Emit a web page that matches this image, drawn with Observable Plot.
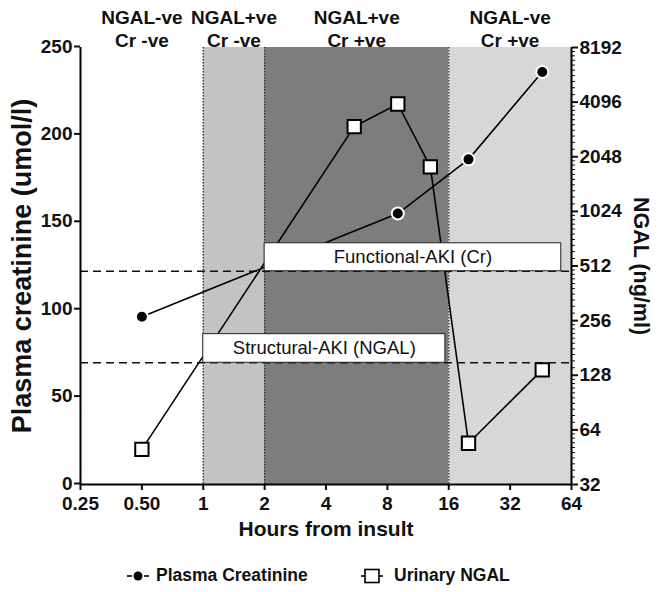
<!DOCTYPE html>
<html>
<head>
<meta charset="utf-8">
<script src="https://cdn.jsdelivr.net/npm/d3@7"></script>
<script src="https://cdn.jsdelivr.net/npm/@observablehq/plot@0.6"></script>
<style>
  html, body { margin: 0; padding: 0; background: #fff; }
  #wrap { width: 662px; font-family: "Liberation Sans", Arial, sans-serif; }
  #legend { position: relative; width: 662px; height: 32px; font-weight: bold; font-size: 17.5px; color: #111; }
  .item { position: absolute; top: 5px; display: flex; align-items: center; gap: 6px; }
</style>
</head>
<body>
<div id="wrap"></div>
<script>
// ---- data ----
const phaseBounds = [0.25, 1, 2, 16, 64];
const phaseLabels = ["NGAL-ve\nCr -ve", "NGAL+ve\nCr -ve", "NGAL+ve\nCr +ve", "NGAL-ve\nCr +ve"];

const creatHours  = [0.5, 9, 20, 46];
const creatValues = [96, 155, 186, 236];          // umol/l (left axis)

const ngalHours  = [0.5, 5.5, 9, 13, 20, 46];
const ngalValues = [50, 3000, 4000, 1800, 54, 137]; // ng/ml (right axis, log2)

const xTicks      = [0.25, 0.5, 1, 2, 4, 8, 16, 32, 64];
const xTickLabels = ["0.25", "0.50", "1", "2", "4", "8", "16", "32", "64"];
const yTicks      = [0, 50, 100, 150, 200, 250];
const ngalTicks   = [32, 64, 128, 256, 512, 1024, 2048, 4096, 8192];

const functionalCr   = 122;   // umol/l threshold
const structuralNgal = 150;   // ng/ml threshold
const boxLabels = ["Functional-AKI (Cr)", "Structural-AKI (NGAL)"];
const boxHours  = [[2, 57], [1, 15.4]];
const boxCrTop  = [138, 86];

// ---- helpers ----
const ngalToLeft = v => Math.log2(v / 32) * 250 / 8;
const leftToNgal = y => Math.round(32 * Math.pow(2, y * 8 / 250));

const creat = creatHours.map((h, i) => ({h, v: creatValues[i]}));
const ngal  = ngalHours.map((h, i) => ({h, v: ngalToLeft(ngalValues[i])}));

const bandFills = ["#ffffff", "#c3c3c3", "#7d7d7d", "#d7d7d7"];
const bands = phaseLabels.map((label, i) => ({
  x1: phaseBounds[i], x2: phaseBounds[i + 1], fill: bandFills[i], label,
  xc: Math.sqrt(phaseBounds[i] * phaseBounds[i + 1])
}));

const thresholds = [functionalCr, ngalToLeft(structuralNgal)];
const boxes = boxLabels.map((label, i) => ({
  label, x1: boxHours[i][0], x2: boxHours[i][1], y1: thresholds[i], y2: boxCrTop[i],
  xc: Math.sqrt(boxHours[i][0] * boxHours[i][1]), yc: (thresholds[i] + boxCrTop[i]) / 2
}));

const ngalMinor = [];
for (let j = 0; j < ngalTicks.length - 1; j++) {
  for (let k = 1; k < 10; k++) ngalMinor.push(ngalToLeft(ngalTicks[j] * (1 + k / 10)));
}
const xLabelMap = new Map(xTicks.map((d, i) => [d, xTickLabels[i]]));

const font = "'Liberation Sans', Arial, sans-serif";

const chart = Plot.plot({
  width: 662,
  height: 560,
  marginLeft: 80,
  marginRight: 91,
  marginTop: 47,
  marginBottom: 76,
  style: {fontFamily: font, fontSize: "19px", fontWeight: "bold", color: "#111", background: "#fff"},
  x: {type: "log", base: 2, domain: [0.25, 64]},
  y: {domain: [0, 250]},
  marks: [
    Plot.rect(bands.filter(b => b.fill !== "#ffffff"), {x1: "x1", x2: "x2", fill: "fill"}),
    Plot.ruleX([1, 2, 16], {stroke: "#333", strokeWidth: 1.3, strokeDasharray: "1.5,1.5"}),
    Plot.ruleY(thresholds, {stroke: "#111", strokeWidth: 1.4, strokeDasharray: "8,5"}),
    Plot.line(ngal, {x: "h", y: "v", stroke: "#000", strokeWidth: 1.6}),
    Plot.line(creat, {x: "h", y: "v", stroke: "#000", strokeWidth: 1.6}),
    Plot.dot(ngal, {x: "h", y: "v", symbol: "square", r: 7.5, fill: "#fff", stroke: "#000", strokeWidth: 2}),
    Plot.dot(creat, {x: "h", y: "v", r: 6, fill: "#000", stroke: "#fff", strokeWidth: 2}),
    Plot.rect(boxes, {x1: "x1", x2: "x2", y1: "y1", y2: "y2", fill: "#fff", stroke: "#222", strokeWidth: 1}),
    Plot.text(boxes, {x: "xc", y: "yc", text: "label", fontSize: 18.5, fontWeight: "normal", fill: "#111"}),
    // axes
    Plot.axisX(xTicks, {tickFormat: d => xLabelMap.get(d), tickSize: 6, tickPadding: 6, strokeWidth: 2,
      fontSize: 19, fontWeight: "bold", label: null}),
    Plot.axisY(yTicks, {anchor: "left", tickSize: 6, tickPadding: 2, strokeWidth: 2, dy: -1,
      fontSize: 19, fontWeight: "bold", label: null}),
    Plot.axisY(ngalMinor, {anchor: "right", tickSize: 3, strokeWidth: 1, tickFormat: () => "", label: null}),
    Plot.axisY(ngalTicks.map(ngalToLeft), {anchor: "right", tickSize: 6, tickPadding: 2, strokeWidth: 2,
      tickFormat: d => String(leftToNgal(d)), fontSize: 19, fontWeight: "bold", label: null}),
    Plot.ruleY([0], {stroke: "#000", strokeWidth: 2}),
    Plot.ruleX([0.25, 64], {stroke: "#000", strokeWidth: 2}),
    // titles
    Plot.text(bands, {x: "xc", text: "label", frameAnchor: "top", lineAnchor: "bottom", dy: -1,
      lineHeight: 1.2, fontSize: 19, fontWeight: "bold", fill: "#111"}),
    Plot.text(["Plasma creatinine (umol/l)"], {frameAnchor: "left", textAnchor: "middle", rotate: -90, dx: -58,
      fontSize: 27, fontWeight: "bold", fill: "#111"}),
    Plot.text(["NGAL (ng/ml)"], {frameAnchor: "right", textAnchor: "middle", rotate: 90, dx: 69,
      fontSize: 21.5, fontWeight: "bold", fill: "#111"}),
    Plot.text(["Hours from insult"], {frameAnchor: "bottom", dy: 51,
      fontSize: 21, fontWeight: "bold", fill: "#111"})
  ]
});

const wrap = document.getElementById("wrap");
wrap.appendChild(chart);

const legend = document.createElement("div");
legend.id = "legend";
legend.innerHTML = `
  <div class="item" style="left:126px">
    <svg width="24" height="16"><line x1="1" y1="8" x2="6" y2="8" stroke="#000" stroke-width="1.6"/>
      <line x1="18" y1="8" x2="23" y2="8" stroke="#000" stroke-width="1.6"/>
      <circle cx="12" cy="8" r="4.5" fill="#000"/></svg>
    <span>Plasma Creatinine</span></div>
  <div class="item" style="left:360px">
    <svg width="24" height="18"><line x1="1" y1="9" x2="23" y2="9" stroke="#000" stroke-width="1.6"/>
      <rect x="5" y="2.5" width="14" height="13" fill="#fff" stroke="#000" stroke-width="1.6"/></svg>
    <span style="margin-left:4px">Urinary NGAL</span></div>`;
wrap.appendChild(legend);
</script>
</body>
</html>
